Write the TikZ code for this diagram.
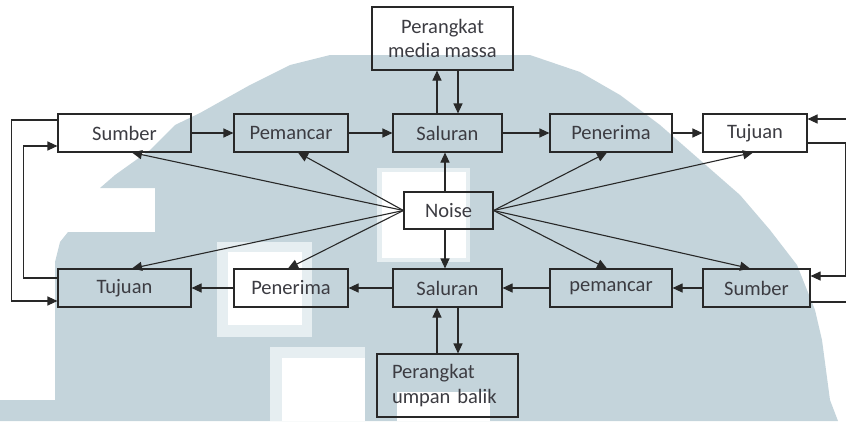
\documentclass[tikz,border=0pt]{standalone}
\usepackage{fontspec}
\setmainfont{Carlito}
\usetikzlibrary{arrows.meta,calc}
\definecolor{wm}{RGB}{196,212,219}
\definecolor{wmlight}{RGB}{230,238,241}
\definecolor{lncol}{RGB}{40,40,40}
\definecolor{txcol}{RGB}{60,60,66}
\begin{document}
\begin{tikzpicture}[x=1pt,y=-1pt,
  box/.style={draw=lncol, line width=1.1pt, rectangle, minimum height=38pt, inner sep=0pt, text=txcol, font=\fontsize{20.5}{24.5}\selectfont},
  arr/.style={draw=lncol, line width=1.1pt, -{Triangle[length=10pt,width=9pt]}},
  conn/.style={draw=lncol, line width=1.1pt}]
\useasboundingbox (0,0) rectangle (846,421);
% watermark background
\fill[wm] (0,421) -- (0,400) -- (55,400) -- (55,262) -- (60,242) -- (68,232) -- (155,232) -- (155,188) -- (100,188)
  -- (115,175) -- (150,150) -- (175,125) -- (200,113) -- (250,85) -- (290,65) -- (330,55) -- (530,55)
  -- (580,72) -- (620,95) -- (660,125) -- (700,160) -- (740,195) -- (770,230) -- (797,265) -- (815,310)
  -- (822,340) -- (830,400) -- (838,421) -- cycle;
\fill[wmlight] (377,168) rectangle (470,262);
\fill[white] (382,172) rectangle (466,258);
\fill[wmlight] (217,242) rectangle (312,337);
\fill[white] (228,252) rectangle (302,325);
\fill[wmlight] (270,347) rectangle (365,421);
\fill[white] (282,358) rectangle (365,421);
\fill[white] (397,392) rectangle (490,421);
% top row
\node[box, minimum width=133pt] (sumT) at (124.5,133) {Sumber};
\node[box, minimum width=114pt] (pemT) at (291,133) {Pemancar};
\node[box, minimum width=109pt] (salT) at (447.5,133) {Saluran};
\node[box, minimum width=122pt] (penT) at (611,133) {Penerima};
\node[box, minimum width=104pt] (tujT) at (755,133) {Tujuan};
\node[box, minimum width=141pt, minimum height=63pt, align=center] (media) at (442.5,38.5) {Perangkat\\media massa};
\node[box, minimum width=89pt, minimum height=37pt] (noise) at (448.5,210.5) {Noise};
% bottom row
\node[box, minimum width=133pt] (tujB) at (124.5,288) {Tujuan};
\node[box, minimum width=114pt] (penB) at (291,288) {Penerima};
\node[box, minimum width=109pt] (salB) at (447.5,288) {Saluran};
\node[box, minimum width=122pt] (pemB) at (611,288) {pemancar};
\node[box, minimum width=107pt] (sumB) at (756.5,288) {Sumber};
\node[box, text width=111pt, inner xsep=15pt, minimum height=63pt, align=left] (umpan) at (447.5,385.5) {Perangkat\\umpan balik};
% main flow
\draw[arr] (sumT) -- (pemT);
\draw[arr] (pemT) -- (salT);
\draw[arr] (salT) -- (penT);
\draw[arr] (penT) -- (tujT);
\draw[arr] (sumB) -- (pemB);
\draw[arr] (pemB) -- (salB);
\draw[arr] (salB) -- (penB);
\draw[arr] (penB) -- (tujB);
% media massa
\coordinate (mu) at ([xshift=-10.5pt]salT.north);
\coordinate (md) at ([xshift=10.5pt]salT.north);
\draw[arr] (mu) -- (mu |- media.south);
\draw[arr] (md |- media.south) -- (md);
% umpan balik
\coordinate (uu) at ([xshift=-10.5pt]salB.south);
\coordinate (ud) at ([xshift=10.5pt]salB.south);
\draw[arr] (uu |- umpan.north) -- (uu);
\draw[arr] (ud) -- (ud |- umpan.north);
% noise
\coordinate (nu) at ([xshift=-3.5pt]noise.north);
\coordinate (nd) at ([xshift=-3.5pt]noise.south);
\draw[arr] (nu) -- (nu |- salT.south);
\draw[arr] (nd) -- (nd |- salB.north);
\draw[arr] (noise.west) -- ([xshift=7.5pt]sumT.south);
\draw[arr] (noise.west) -- ([xshift=7pt]pemT.south);
\draw[arr] (noise.west) -- ([xshift=7.5pt]tujB.north);
\draw[arr] (noise.west) -- ([xshift=-3pt]penB.north);
\draw[arr] (noise.east) -- ([xshift=-4pt]penT.south);
\draw[arr] (noise.east) -- ([xshift=-2pt]tujT.south);
\draw[arr] (noise.east) -- ([xshift=-4pt]pemB.north);
\draw[arr] (noise.east) -- ([xshift=-6.5pt]sumB.north);
% left feedback
\draw[arr] ([yshift=13pt]sumT.west) -- ++(-46,0) |- ([yshift=-13pt]tujB.west);
\draw[arr] ([yshift=10pt]tujB.west) -- ++(-34,0) |- ([yshift=-13pt]sumT.west);
% right feedback
\draw[arr] ([yshift=-10pt]tujT.east) -- ++(38,0) |- ([yshift=12pt]sumB.east);
\coordinate (rout) at (852,302);
\coordinate (rin) at (852,119);
\draw[conn] ([yshift=-14pt]sumB.east) -- (rout);
\draw[arr] (rin) -- ([yshift=14pt]tujT.east);
\end{tikzpicture}
\end{document}
